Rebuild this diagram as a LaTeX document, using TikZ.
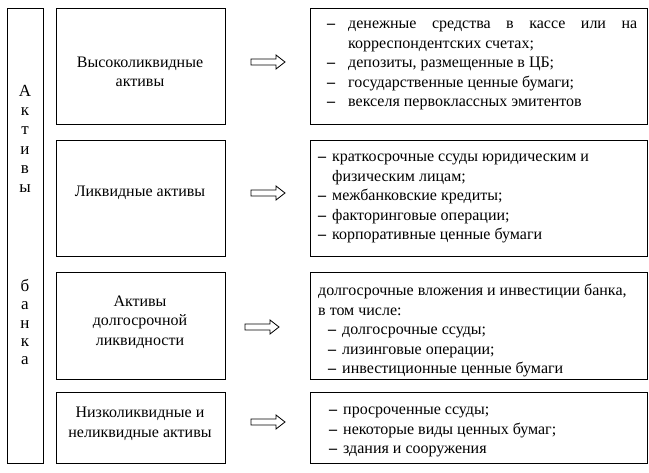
\documentclass[tikz,border=0pt]{standalone}
\usepackage{fontspec}
\setmainfont{Liberation Serif}
\tikzset{
  box/.style={draw, line width=0.8pt, anchor=north west, inner sep=0pt},
  txt/.style={inner sep=0pt, font=\fontsize{16}{19.5}\selectfont},
  ltxt/.style={txt, align=center},
  rtxt/.style={txt, align=left, anchor=north west},
  arr/.style={draw, line width=0.8pt, fill=white}
}
\newcommand{\dsh}[1]{\makebox[#1][l]{\textbf{--}}}
\newcommand{\harrow}[1]{\draw[arr] ([shift={(-17,-3)}]#1) -- ([shift={(8,-3)}]#1) -- ([shift={(8,-7)}]#1) -- ([shift={(17,0)}]#1) -- ([shift={(8,7)}]#1) -- ([shift={(8,3)}]#1) -- ([shift={(-17,3)}]#1) -- cycle;}
\begin{document}
\begin{tikzpicture}[x=1pt,y=-1pt]
\useasboundingbox (0,0) rectangle (649,473);
\node[box, minimum width=36, minimum height=455] (tall) at (7,8) {};
\node[txt, align=center, font=\fontsize{17}{19.2}\selectfont, anchor=north] (t1) at (25,85) {А\\к\\т\\и\\в\\ы};
\node[txt, align=center, font=\fontsize{17}{18.4}\selectfont, anchor=north] (t2) at (25,279) {б\\а\\н\\к\\а};
% left boxes
\node[box, minimum width=169, minimum height=116] (l1) at (56,8) {};
\node[box, minimum width=169, minimum height=116] (l2) at (56,140) {};
\node[box, minimum width=169, minimum height=107] (l3) at (56,272) {};
\node[box, minimum width=169, minimum height=71] (l4) at (56,392) {};
\node[ltxt] (lt1) at (140,72) {Высоколиквидные\\активы};
\node[ltxt] (lt2) at (140,193) {Ликвидные активы};
\node[ltxt] (lt3) at (140,322) {Активы\\долгосрочной\\ликвидности};
\node[ltxt] (lt4) at (140,424) {Низколиквидные и\\неликвидные активы};
% right boxes
\node[box, minimum width=337, minimum height=116] (r1) at (310,8) {};
\node[box, minimum width=337, minimum height=116] (r2) at (310,140) {};
\node[box, minimum width=337, minimum height=107] (r3) at (310,272) {};
\node[box, minimum width=337, minimum height=71] (r4) at (310,392) {};
\node[rtxt] (rt1) at (327,21) {\dsh{21pt}\makebox[289pt][s]{денежные\hfill средства\hfill в\hfill кассе\hfill или\hfill на}\\
\hspace*{21pt}корреспондентских счетах;\\
\dsh{21pt}депозиты, размещенные в ЦБ;\\
\dsh{21pt}государственные ценные бумаги;\\
\dsh{21pt}векселя первоклассных эмитентов};
\node[rtxt] (rt2) at (318,154) {\dsh{14pt}краткосрочные ссуды юридическим и\\
\hspace*{14pt}физическим лицам;\\
\dsh{14pt}межбанковские кредиты;\\
\dsh{14pt}факторинговые операции;\\
\dsh{14pt}корпоративные ценные бумаги};
\node[rtxt] (rt3) at (318,284) {долгосрочные вложения и инвестиции банка,\\
в том числе:\\
\hspace*{10pt}\dsh{14pt}долгосрочные ссуды;\\
\hspace*{10pt}\dsh{14pt}лизинговые операции;\\
\hspace*{10pt}\dsh{14pt}инвестиционные ценные бумаги};
\node[rtxt] (rt4) at (329,407) {\dsh{14pt}просроченные ссуды;\\
\dsh{14pt}некоторые виды ценных бумаг;\\
\dsh{14pt}здания и сооружения};
% arrows
\coordinate (a1) at (268,62);
\coordinate (a2) at (268,193);
\coordinate (a3) at (262,327);
\coordinate (a4) at (268,422);
\harrow{a1}
\harrow{a2}
\harrow{a3}
\harrow{a4}
\end{tikzpicture}
\end{document}
